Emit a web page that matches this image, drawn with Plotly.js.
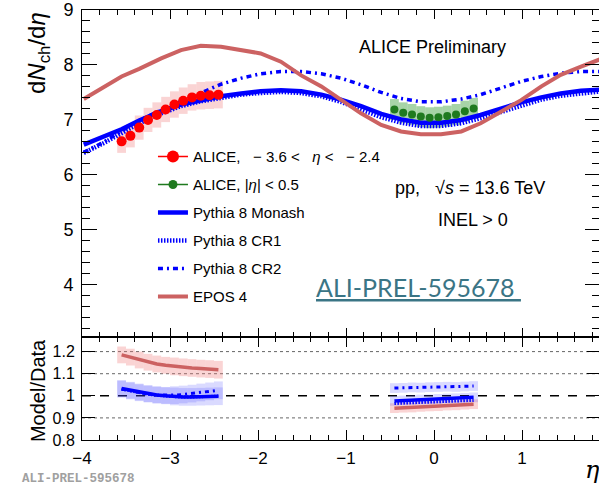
<!DOCTYPE html>
<html><head><meta charset="utf-8">
<script src="https://cdn.plot.ly/plotly-3.0.1.min.js"></script>
<style>html,body{margin:0;padding:0;overflow:hidden;background:#fff}#chart{width:600px;height:487px}</style>
</head><body><div id="chart"></div>
<script>
// ---------------- data ----------------
const etaFwd = [-3.55,-3.45,-3.35,-3.25,-3.15,-3.05,-2.95,-2.85,-2.75,-2.65,-2.55,-2.45];
const aliceFwd = [6.61,6.71,6.86,7.00,7.09,7.19,7.28,7.35,7.41,7.44,7.45,7.46];
const aliceFwdSys = [0.21,0.21,0.22,0.22,0.23,0.23,0.24,0.24,0.24,0.25,0.25,0.25];

const etaMid = [-0.45,-0.35,-0.25,-0.15,-0.05,0.05,0.15,0.25,0.35,0.45];
const aliceMid = [7.19,7.13,7.10,7.06,7.04,7.05,7.07,7.10,7.16,7.21];
const aliceMidSys = [0.19,0.19,0.19,0.19,0.19,0.19,0.19,0.19,0.19,0.19];

const etaModel = [-3.98,-3.75,-3.55,-3.35,-3.1,-2.875,-2.65,-2.42,-2.19,-1.97,-1.74,-1.51,-1.28,-1.06,-0.83,-0.6,-0.375,-0.15,0.08,0.31,0.53,0.76,0.99,1.22,1.44,1.67,1.9];
const epos4  = [7.38,7.60,7.79,7.93,8.12,8.27,8.35,8.33,8.27,8.21,8.06,7.81,7.61,7.36,7.12,6.91,6.79,6.74,6.74,6.79,6.94,7.15,7.36,7.61,7.82,7.97,8.11];
const monash = [6.55,6.70,6.83,6.99,7.16,7.28,7.36,7.43,7.48,7.52,7.54,7.52,7.46,7.37,7.25,7.11,7.01,6.95,6.95,7.00,7.09,7.21,7.32,7.41,7.48,7.53,7.55];
const cr1    = [6.40,6.58,6.76,6.94,7.12,7.25,7.34,7.41,7.46,7.49,7.51,7.49,7.43,7.33,7.20,7.05,6.95,6.89,6.89,6.94,7.03,7.15,7.27,7.37,7.44,7.49,7.52];
const cr2    = [6.41,6.60,6.80,6.99,7.18,7.34,7.50,7.65,7.76,7.84,7.88,7.88,7.84,7.76,7.64,7.50,7.39,7.33,7.33,7.38,7.46,7.58,7.70,7.79,7.85,7.88,7.88];

const ratioEposFwd   = [1.185,1.175,1.162,1.152,1.144,1.138,1.133,1.129,1.126,1.123,1.121,1.118];
const ratioMonashFwd = [1.033,1.025,1.017,1.010,1.004,1.000,0.997,0.995,0.995,0.996,0.997,0.998];
const ratioCR1Fwd    = [1.030,1.022,1.014,1.007,1.002,0.998,0.996,0.994,0.994,0.995,0.997,0.999];
const ratioCR2Fwd    = [1.030,1.022,1.014,1.008,1.004,1.002,1.003,1.006,1.010,1.015,1.020,1.025];
const ratioErrFwd    = [0.038,0.038,0.038,0.038,0.038,0.038,0.040,0.040,0.040,0.040,0.040,0.040];

const ratioEposMid   = [0.944,0.946,0.947,0.950,0.952,0.953,0.956,0.957,0.960,0.962];
const ratioMonashMid = [0.977,0.979,0.981,0.983,0.984,0.986,0.988,0.989,0.991,0.993];
const ratioCR1Mid    = [0.965,0.967,0.968,0.970,0.972,0.973,0.975,0.976,0.978,0.979];
const ratioCR2Mid    = [1.035,1.036,1.038,1.037,1.039,1.040,1.041,1.040,1.042,1.044];
const ratioErrMid    = [0.022,0.022,0.022,0.022,0.022,0.022,0.022,0.022,0.022,0.022];

const ratioTicks = [0.8,0.9,1,1.1,1.2];
const ratioTickText = ['0.8','0.9','1','1.1','1.2'];
const ratioGuides = [0.9,1.1,1.2];

const legendNames = ['ALICE,   \u2212 3.6 <   <i>\u03b7</i> <   \u2212 2.4', 'ALICE, |<i>\u03b7</i>| < 0.5', 'Pythia 8 Monash', 'Pythia 8 CR1', 'Pythia 8 CR2', 'EPOS 4'];

// ---------------- styles ----------------
const FONT = 'Liberation Sans, Arial, Helvetica, sans-serif';
const RED = '#ff0000', GREEN = '#1f7a1f', BLUE = '#0000ff', EPOSC = '#cc6262';
const PINK = 'rgba(238,120,120,0.32)', LGREEN = 'rgba(60,160,60,0.45)', LBLUE = 'rgba(70,70,255,0.2)';

function boxes(x, v, e, xa, ya, color) {
  return {type:'bar', x:x, y:e.map(d => 2*d), base:v.map((d,i) => d - e[i]), width:0.1,
    marker:{color:color, line:{width:0}}, xaxis:xa, yaxis:ya, showlegend:false, hoverinfo:'skip'};
}
function line(x, y, xa, ya, style, name, rank, show) {
  return {type:'scatter', mode:'lines', x:x, y:y, xaxis:xa, yaxis:ya, name:name,
    legendrank:rank, legendgroup:'g'+rank, showlegend:!!show, hoverinfo:'skip', line:style};
}
const sMonash = {color:BLUE, width:4.5};
const sCR1 = {color:BLUE, width:4.5, dash:'1.5px,1.5px'};
const sCR2 = {color:BLUE, width:3.5, dash:'5px,4px,2px,4px'};
const sEpos = {color:EPOSC, width:4};

const traces = [
  boxes(etaFwd, aliceFwd, aliceFwdSys, 'x', 'y', PINK),
  boxes(etaMid, aliceMid, aliceMidSys, 'x', 'y', LGREEN),
  line(etaModel, monash, 'x', 'y', sMonash, legendNames[2], 3, true),
  line(etaModel, cr1, 'x', 'y', sCR1, legendNames[3], 4, true),
  line(etaModel, cr2, 'x', 'y', sCR2, legendNames[4], 5, true),
  line(etaModel, epos4, 'x', 'y', sEpos, legendNames[5], 6, true),
  {type:'scatter', mode:'markers', x:etaFwd, y:aliceFwd, xaxis:'x', yaxis:'y', showlegend:false,
   marker:{color:RED, size:10, symbol:'circle'}, hoverinfo:'skip'},
  {type:'scatter', mode:'markers', x:etaMid, y:aliceMid, xaxis:'x', yaxis:'y', showlegend:false,
   marker:{color:GREEN, size:8, symbol:'circle'}, hoverinfo:'skip'},
  // legend entries for the data (line + marker symbol, no points)
  {type:'scatter', mode:'lines+markers', x:[null], y:[null], xaxis:'x', yaxis:'y', name:legendNames[0],
   legendrank:1, legendgroup:'g1', line:{color:RED, width:1.5}, marker:{color:RED, size:12}},
  {type:'scatter', mode:'lines+markers', x:[null], y:[null], xaxis:'x', yaxis:'y', name:legendNames[1],
   legendrank:2, legendgroup:'g2', line:{color:GREEN, width:1.5}, marker:{color:GREEN, size:9}},

  // ratio panel
  boxes(etaFwd, ratioEposFwd, ratioErrFwd, 'x2', 'y2', PINK),
  boxes(etaFwd, ratioMonashFwd, ratioErrFwd, 'x2', 'y2', LBLUE),
  boxes(etaFwd, ratioCR2Fwd, ratioErrFwd, 'x2', 'y2', LBLUE),
  boxes(etaMid, ratioEposMid, ratioErrMid, 'x2', 'y2', PINK),
  boxes(etaMid, ratioMonashMid, ratioErrMid, 'x2', 'y2', LBLUE),
  boxes(etaMid, ratioCR2Mid, ratioErrMid, 'x2', 'y2', LBLUE),
  line(etaFwd, ratioMonashFwd, 'x2', 'y2', {color:BLUE, width:3.5}, 'Monash/Data', 13),
  line(etaFwd, ratioCR1Fwd, 'x2', 'y2', {color:BLUE, width:3, dash:'1.5px,1.5px'}, 'CR1/Data', 14),
  line(etaFwd, ratioCR2Fwd, 'x2', 'y2', {color:BLUE, width:3, dash:'4px,4px,2px,4px'}, 'CR2/Data', 15),
  line(etaFwd, ratioEposFwd, 'x2', 'y2', {color:EPOSC, width:3.5}, 'EPOS/Data', 16),
  line(etaMid, ratioMonashMid, 'x2', 'y2', {color:BLUE, width:3.5}, 'Monash/Data', 17),
  line(etaMid, ratioCR1Mid, 'x2', 'y2', {color:BLUE, width:3, dash:'1.5px,1.5px'}, 'CR1/Data', 18),
  line(etaMid, ratioCR2Mid, 'x2', 'y2', {color:BLUE, width:3, dash:'4px,4px,2px,4px'}, 'CR2/Data', 19),
  line(etaMid, ratioEposMid, 'x2', 'y2', {color:EPOSC, width:3.5}, 'EPOS/Data', 20)
];

const axBase = {showline:true, linecolor:'#000', linewidth:1, mirror:'allticks', showgrid:false, zeroline:false,
  ticks:'inside', tickcolor:'#000', tickwidth:1};
const XR = [-4, 1.886];
const split = 0.2395;

const shapes = ratioGuides.map(v => ({type:'line', xref:'x2 domain', x0:0, x1:1, yref:'y2', y0:v, y1:v,
  layer:'below', line:{color:'#666', width:1, dash:'dot'}}));
shapes.push({type:'line', xref:'x2 domain', x0:0, x1:1, yref:'y2', y0:1, y1:1, layer:'below',
  line:{color:'#000', width:1.6, dash:'dash'}});

const layout = {
  width:600, height:487,
  margin:{l:82, r:0, t:10, b:47},
  paper_bgcolor:'#fff', plot_bgcolor:'#fff',
  barmode:'overlay',
  font:{family:FONT, color:'#000'},
  showlegend:true,
  legend:{x:0.137, xanchor:'left', y:0.697, yanchor:'top', bgcolor:'rgba(0,0,0,0)', borderwidth:0,
    font:{family:FONT, size:15, color:'#000'}, tracegroupgap:5.5, traceorder:'grouped', itemwidth:30},
  xaxis:Object.assign({}, axBase, {domain:[0,1], anchor:'y', range:XR, showticklabels:false,
    dtick:1, tick0:0, ticklen:9, minor:{ticks:'inside', ticklen:5, dtick:0.2, tick0:0, tickcolor:'#000'}}),
  xaxis2:Object.assign({}, axBase, {domain:[0,1], anchor:'y2', range:XR, matches:'x',
    dtick:1, tick0:0, ticklen:10, minor:{ticks:'inside', ticklen:5, dtick:0.2, tick0:0, tickcolor:'#000'},
    tickfont:{family:FONT, size:17}, ticklabelstandoff:3}),
  yaxis:Object.assign({}, axBase, {domain:[split,1], anchor:'x', range:[3.05,9],
    dtick:1, tick0:0, ticklen:15, minor:{ticks:'inside', ticklen:8, dtick:0.2, tick0:0, tickcolor:'#000'},
    tickfont:{family:FONT, size:18}, ticklabelstandoff:4}),
  yaxis2:Object.assign({}, axBase, {domain:[0,split], anchor:'x2', range:[0.8,1.266],
    tickvals:ratioTicks, ticktext:ratioTickText, ticklen:13,
    tickfont:{family:FONT, size:16}, ticklabelstandoff:3}),
  shapes:shapes,
  annotations:[
    {text:'d<i>N</i><sub>ch</sub>/d<i>\u03b7</i>', xref:'paper', yref:'paper', x:-0.083, y:0.9,
     xanchor:'center', yanchor:'middle', textangle:-90, showarrow:false, font:{family:FONT, size:24}},
    {text:'Model/Data', xref:'paper', yref:'paper', x:-0.085, y:0.116,
     xanchor:'center', yanchor:'middle', textangle:-90, showarrow:false, font:{family:FONT, size:20}},
    {text:'<i>\u03b7</i>', xref:'paper', yref:'paper', x:0.986, y:-0.07,
     xanchor:'center', yanchor:'middle', showarrow:false, font:{family:'DejaVu Serif, serif', size:24}},
    {text:'ALICE Preliminary', xref:'paper', yref:'paper', x:0.677, y:0.9147,
     xanchor:'center', yanchor:'middle', showarrow:false, font:{family:FONT, size:18}},
    {text:'pp,   \u221a<i>s</i> = 13.6 TeV', xref:'paper', yref:'paper', x:0.600, y:0.5867,
     xanchor:'left', yanchor:'middle', showarrow:false, font:{family:FONT, size:18}},
    {text:'INEL > 0', xref:'paper', yref:'paper', x:0.684, y:0.5116,
     xanchor:'left', yanchor:'middle', showarrow:false, font:{family:FONT, size:18}},
    {text:'<u>ALI-PREL-595678\u00a0</u>', xref:'paper', yref:'paper', x:0.447, y:0.3565,
     xanchor:'left', yanchor:'middle', showarrow:false, font:{family:'Lato, Open Sans, sans-serif', size:25, color:'#3a7585'}},
    {text:'<b>ALI-PREL-595678</b>', xref:'paper', yref:'paper', x:-0.119, y:-0.0907,
     xanchor:'left', yanchor:'middle', showarrow:false, font:{family:'Liberation Mono, DejaVu Sans Mono, monospace', size:12.5, color:'#a0a0a0'}}
  ]
};

Plotly.newPlot('chart', traces, layout, {staticPlot:true, displayModeBar:false});
</script></body></html>
